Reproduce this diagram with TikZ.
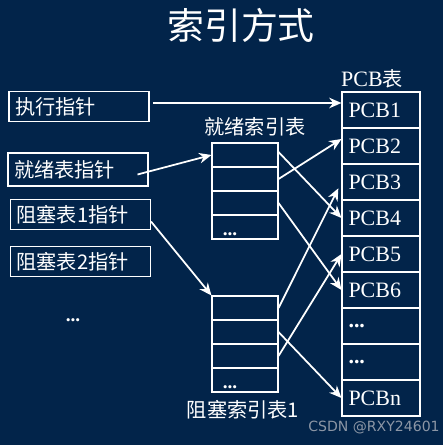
\documentclass[tikz,border=0pt]{standalone}
\usepackage{fontspec}
\setmainfont{Liberation Serif}
\newfontfamily\cjk{Noto Sans CJK SC}
\newfontfamily\wm{DejaVu Sans}
\usetikzlibrary{arrows.meta}
\definecolor{navy}{RGB}{2,36,74}
\definecolor{mark}{RGB}{140,150,165}

\begin{document}
\begin{tikzpicture}[x=0.02cm,y=-0.02cm,
    every node/.style={text=white},
    arr/.style={draw=white,line width=1pt,-{Stealth[length=7pt,width=6pt]}},
    ptr/.style={draw=white,line width=0.6pt,minimum height=0.58cm,text width=2.56cm,inner xsep=0.12cm,align=left,font=\cjk\fontsize{11.5}{13}\selectfont},
    cell/.style={draw=white,line width=0.6pt,minimum width=1.32cm,minimum height=0.48cm,inner sep=0pt},
    pcb/.style={draw=white,line width=0.6pt,minimum width=1.56cm,minimum height=0.72cm,text width=1.3cm,inner xsep=0.13cm,align=left,font=\fontsize{12.5}{14}\selectfont},
    lbl/.style={font=\cjk\fontsize{11.5}{13}\selectfont},
    dots/.style={font=\bfseries\fontsize{11}{12}\selectfont,inner sep=0pt}]
  \fill[navy] (0,0) rectangle (443,445);
  \useasboundingbox (0,0) rectangle (443,445);

  \node (title) at (241,25) {\cjk\fontsize{21}{24}\selectfont 索引方式};

  % pointers
  \node[ptr] (x1) at (79,106.5) {执行指针};
  \node[ptr,minimum height=0.66cm] (x2) at (78,169.5) {就绪表指针};
  \node[ptr,minimum height=0.54cm] (x3) at (80.5,214.5) {阻塞表1指针};
  \node[ptr,minimum height=0.54cm] (x4) at (80.5,261.5) {阻塞表2指针};
  \node[dots] (xd) at (73,320) {...};

  % index tables
  \node[lbl] (rl) at (255,127) {就绪索引表};
  \node[cell] (r1) at (245,155) {}; \node[cell] (r2) at (245,179) {};
  \node[cell] (r3) at (245,203) {}; \node[cell] (r4) at (245,227) {};
  \node[dots] (rd) at (230,234) {...};
  \node[cell] (b1) at (245,308) {}; \node[cell] (b2) at (245,332) {};
  \node[cell] (b3) at (245,356) {}; \node[cell] (b4) at (245,380) {};
  \node[dots] (bd) at (230,387) {...};
  \node[lbl] (bl) at (243,410) {阻塞索引表1};

  % pcb table
  \node (pl) at (372,79) {\fontsize{12.5}{14}\selectfont PCB\cjk\fontsize{11.5}{13}\selectfont 表};
  \node[pcb] (p1) at (381,110) {PCB1}; \node[pcb] (p2) at (381,146) {PCB2};
  \node[pcb] (p3) at (381,182) {PCB3}; \node[pcb] (p4) at (381,218) {PCB4};
  \node[pcb] (p5) at (381,254) {PCB5}; \node[pcb] (p6) at (381,290) {PCB6};
  \node[pcb] (p7) at (381,326) {\textbf{...}}; \node[pcb] (p8) at (381,362) {\textbf{...}};
  \node[pcb] (pn) at (381,398) {PCBn};

  \draw[arr] ([xshift=2pt,yshift=0.07cm]x1.east) -- ([yshift=0.14cm]p1.west);
  \draw[arr] ([xshift=-0.22cm,yshift=-0.1cm]x2.east) -- (r1.west);
  \draw[arr] ([yshift=-0.14cm]x3.east) -- (b1.north west);
  \draw[arr] (r2.east) -- ([yshift=0.14cm]p2.west);
  \draw[arr] ([yshift=0.06cm]r1.east) -- (p4.west);
  \draw[arr] (r3.east) -- (p6.west);
  \draw[arr,shorten >=4pt] (b1.east) -- (p3.west);
  \draw[arr] (b3.east) -- (p5.west);
  \draw[arr] (b2.east) -- (pn.west);

  \node[text=mark,anchor=east,inner sep=0pt] (wmk) at (440,428) {\wm\fontsize{8}{10}\selectfont CSDN @RXY24601};
\end{tikzpicture}
\end{document}
